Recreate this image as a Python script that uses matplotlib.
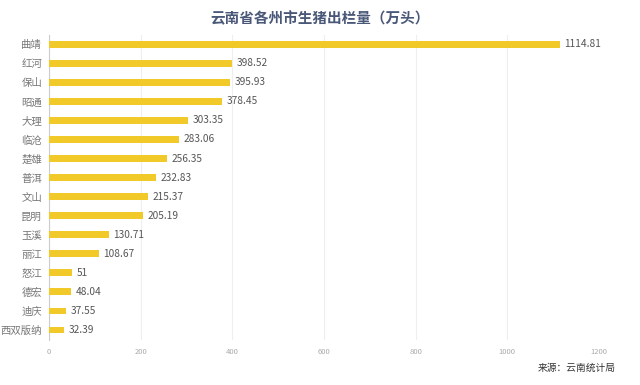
import matplotlib
matplotlib.use("Agg")
from matplotlib import pyplot as plt

plt.rcParams['font.family'] = ['Noto Sans CJK SC', 'DejaVu Sans']

# 云南各州市生猪出栏量 (万头)
cities = ["曲靖", "红河", "保山", "昭通", "大理", "临沧", "楚雄", "普洱",
          "文山", "昆明", "玉溪", "丽江", "怒江", "德宏", "迪庆", "西双版纳"]
values = [1114.81, 398.52, 395.93, 378.45, 303.35, 283.06, 256.35, 232.83,
          215.37, 205.19, 130.71, 108.67, 51, 48.04, 37.55, 32.39]
labels = ["1114.81", "398.52", "395.93", "378.45", "303.35", "283.06", "256.35", "232.83",
          "215.37", "205.19", "130.71", "108.67", "51", "48.04", "37.55", "32.39"]
xticks = [0, 200, 400, 600, 800, 1000, 1200]

fig = plt.figure(figsize=(6.4, 3.85), dpi=100)
ax = fig.add_axes([0.0766, 0.118, 0.8594, 0.792])

ypos = list(range(len(cities)))
ax.barh(ypos, values, height=0.36, color="#F1C928", zorder=3)
for y, v, t in zip(ypos, values, labels):
    ax.text(v + 10, y, t, va="center", ha="left", fontsize=7.3, color="#555555")

ax.set_ylim(15.5, -0.5)
ax.set_xlim(0, 1200)
ax.set_yticks(ypos)
ax.set_yticklabels(cities, fontsize=7.5, color="#777777")
ax.set_xticks(xticks)
ax.set_xticklabels([str(x) for x in xticks], fontsize=5.5, color="#aaaaaa")
ax.tick_params(axis="both", length=0, pad=5)
ax.tick_params(axis="x", pad=6)
ax.grid(axis="x", color="#eeeeee", linewidth=0.8, zorder=0)
for s in ["top", "right", "bottom"]:
    ax.spines[s].set_visible(False)
ax.spines["left"].set_color("#cccccc")
ax.spines["left"].set_linewidth(0.8)

fig.text(0.5, 0.953, "云南省各州市生猪出栏量（万头）", ha="center", va="center",
         fontsize=10.5, color="#4a5878", fontweight="bold")
fig.text(0.962, 0.045, "来源：云南统计局", ha="right", va="center",
         fontsize=7, color="#333333")

fig.savefig("out.png", dpi=100, facecolor="white")
